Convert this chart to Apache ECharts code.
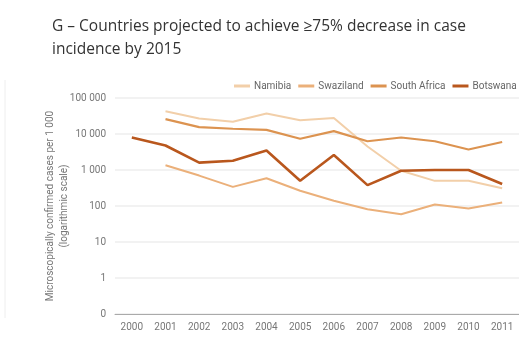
<!DOCTYPE html>
<html><head><meta charset="utf-8">
<script src="https://cdn.jsdelivr.net/npm/echarts@6/dist/echarts.min.js"></script>
<style>html,body{margin:0;padding:0;background:#fff}#c{width:519px;height:347px}</style>
</head><body><div id="c"></div>
<script>
const years = ['2000','2001','2002','2003','2004','2005','2006','2007','2008','2009','2010','2011'];
const namibia   = [null, 43000, 27000, 22000, 37000, 24000, 28000, 4500, 950, 500, 500, 310];
const swaziland = [null, 1350, 700, 340, 590, 265, 140, 81, 59, 110, 85, 125];
const southAfrica = [null, 26000, 15500, 14000, 13000, 7400, 12000, 6300, 8000, 6300, 3700, 6000];
const botswana  = [8000, 4800, 1600, 1800, 3500, 500, 2600, 380, 950, 1000, 1000, 410];
const yTickLabels = {'0.1':'0','1':'1','10':'10','100':'100','1000':'1 000','10000':'10 000','100000':'100 000'};

const colors = {Namibia:'#f2cfa9', Swaziland:'#ebb07a', 'South Africa':'#dc9350', Botswana:'#b9571d'};
const widths = {Namibia:2, Swaziland:2, 'South Africa':2.2, Botswana:2.6};
const small = 'Roboto';
function s(name, data){
  return {name, type:'line', data, symbol:'none', connectNulls:false,
    lineStyle:{color:colors[name], width:widths[name]}, itemStyle:{color:colors[name]}};
}
const chart = echarts.init(document.getElementById('c'), null, {renderer:'canvas'});
chart.setOption({
  animation:false,
  title:{text:'G – Countries projected to achieve ≥75% decrease in case\nincidence by 2015', left:47, top:10,
    textStyle:{fontFamily:'Open Sans', fontSize:15.5, fontWeight:'normal', color:'#333', lineHeight:23}},
  legend:{top:76, left:229, width:700, itemGap:7, itemWidth:16, itemHeight:3, icon:'rect',
    textStyle:{fontFamily:small, fontSize:10, color:'#666', padding:[0,0,0,-1]},
    data:['Namibia','Swaziland','South Africa','Botswana']},
  grid:{left:115, right:-10, top:98, bottom:33},
  xAxis:{type:'category', data:years, boundaryGap:true,
    axisLine:{lineStyle:{color:'#aaa', width:1}},
    axisTick:{alignWithLabel:true, length:3, lineStyle:{color:'#aaa'}},
    axisLabel:{fontFamily:small, fontSize:10, color:'#777', margin:8, interval:0}},
  yAxis:{type:'log', logBase:10, min:0.1, max:100000,
    name:'Microscopically confirmed cases per 1 000\n(logarithmic scale)', nameLocation:'middle', nameGap:44,
    nameMoveOverlap:false,
    nameTextStyle:{fontFamily:small, fontSize:10, color:'#777', lineHeight:14},
    axisLine:{show:false}, axisTick:{show:false},
    splitLine:{lineStyle:{color:'#eeeeee', width:1.5}},
    axisLabel:{fontFamily:small, fontSize:10, color:'#777', margin:9,
      formatter:v=>{const k=String(+v.toPrecision(3)); return yTickLabels[k]!==undefined?yTickLabels[k]:'';}}},
  graphic:[{type:'line', shape:{x1:5,y1:80,x2:5,y2:318}, style:{stroke:'#eeeeee', lineWidth:1}}],
  series:[s('Namibia',namibia), s('Swaziland',swaziland), s('South Africa',southAfrica), s('Botswana',botswana)]
});
</script></body></html>
